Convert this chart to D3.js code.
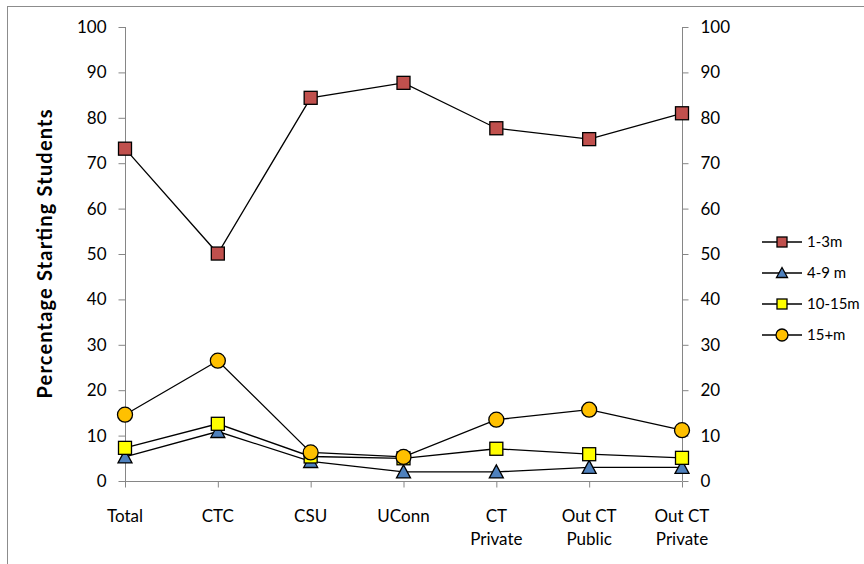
<!DOCTYPE html>
<html><head><meta charset="utf-8">
<script src="https://cdn.jsdelivr.net/npm/d3@7"></script>
<style>body{margin:0;background:#fff}svg{display:block}text{font-family:Lato,"Open Sans",sans-serif}</style>
</head><body><svg id="c" width="864" height="564"></svg>
<script>
const categories = [["Total"],["CTC"],["CSU"],["UConn"],["CT","Private"],["Out CT","Public"],["Out CT","Private"]];
const s1_3m   = [73.2, 50.1, 84.4, 87.7, 77.7, 75.3, 81.0];
const s4_9m   = [5.3, 10.9, 4.3, 2.0, 2.0, 3.0, 3.0];
const s10_15m = [7.3, 12.6, 5.4, 5.0, 7.1, 5.9, 5.1];
const s15m    = [14.6, 26.5, 6.3, 5.3, 13.5, 15.7, 11.2];
const seriesNames = ["1-3m","4-9 m","10-15m","15+m"];
const yTicks = [0,10,20,30,40,50,60,70,80,90,100];

const svg = d3.select("#c");
svg.append("rect").attr("x",7.5).attr("y",6.5).attr("width",900).attr("height",600).attr("fill","none").attr("stroke","#8c8c8c");

const x = d3.scalePoint().domain(d3.range(categories.length)).range([125,682]);
const y = d3.scaleLinear().domain([0,100]).range([481,27]);
const gray = "#868686";

const la = svg.append("g").attr("transform","translate(125.5,0)").call(d3.axisLeft(y).tickValues(yTicks).tickSize(7).tickPadding(12));
const ra = svg.append("g").attr("transform","translate(682.5,0)").call(d3.axisRight(y).tickValues(yTicks).tickSize(6).tickPadding(12));
const xa = svg.append("g").attr("transform","translate(0,481.5)").call(d3.axisBottom(x).tickSize(6).tickFormat(""));
[la,ra,xa].forEach(g=>{g.selectAll("path,line").attr("stroke",gray);g.selectAll("text").attr("font-size",17).attr("fill","#000").attr("font-family","Lato,'Open Sans',sans-serif");});
la.select(".domain").attr("d","M0,27V481");
ra.select(".domain").attr("d","M0,27V481");
xa.select(".domain").attr("d","M125,0H682");

const xl = svg.append("g");
categories.forEach((c,i)=>{
  const t = xl.append("text").attr("x",x(i)).attr("y",522).attr("text-anchor","middle").attr("font-size",17);
  c.forEach((ln,j)=>t.append("tspan").attr("x",x(i)).attr("dy",j?23:0).text(ln));
});

svg.append("text").attr("transform","translate(52,254) rotate(-90)").attr("text-anchor","middle")
  .attr("font-size",20).attr("font-weight","bold").attr("textLength",289).attr("lengthAdjust","spacing")
  .text("Percentage Starting Students");

const line = d3.line().x((d,i)=>x(i)).y(d=>y(d));
const series = [
  {name:seriesNames[0], data:s1_3m, shape:"square", fill:"#C0504D", size:13},
  {name:seriesNames[1], data:s4_9m, shape:"triangle", fill:"#4F81BD", size:12},
  {name:seriesNames[2], data:s10_15m, shape:"square", fill:"#FFFF00", size:13},
  {name:seriesNames[3], data:s15m, shape:"circle", fill:"#FFC000", size:15}
];
function marker(g, s, cx, cy){
  if(s.shape==="square"){
    g.append("rect").attr("x",cx-s.size/2).attr("y",cy-s.size/2).attr("width",s.size).attr("height",s.size)
      .attr("fill",s.fill).attr("stroke","#000").attr("stroke-width",1.3);
  } else if(s.shape==="triangle"){
    const h=s.size;
    g.append("path").attr("d",`M${cx},${cy-h/2-1}L${cx+h/2+1},${cy+h/2}L${cx-h/2-1},${cy+h/2}Z`)
      .attr("fill",s.fill).attr("stroke","#000").attr("stroke-width",1.3);
  } else {
    g.append("circle").attr("cx",cx).attr("cy",cy).attr("r",s.size/2).attr("fill",s.fill).attr("stroke","#000").attr("stroke-width",1.3);
  }
}
series.forEach(s=>{
  svg.append("path").datum(s.data).attr("d",line).attr("fill","none").attr("stroke","#000").attr("stroke-width",1.3);
});
series.forEach(s=>{
  const g = svg.append("g");
  s.data.forEach((d,i)=>marker(g,s,x(i),y(d)));
});
const lg = svg.append("g");
series.forEach((s,i)=>{
  const yy = 242 + i*31;
  lg.append("line").attr("x1",762).attr("x2",802).attr("y1",yy).attr("y2",yy).attr("stroke","#000").attr("stroke-width",1.3);
  marker(lg,{shape:s.shape,fill:s.fill,size:s.shape==="circle"?12:(s.shape==="triangle"?9:10)},782,yy);
  lg.append("text").attr("x",807).attr("y",yy+5).attr("font-size",15).text(s.name);
});
</script></body></html>
